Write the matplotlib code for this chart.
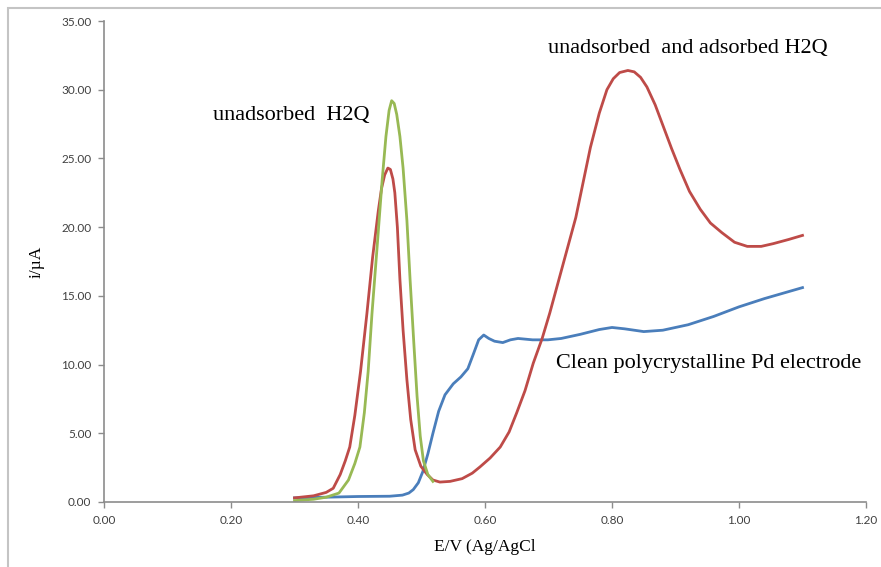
import matplotlib
matplotlib.use("Agg")
import matplotlib.pyplot as plt
from matplotlib.patches import Rectangle

# Clean polycrystalline Pd electrode (blue)
pd_x = [0.30, 0.35, 0.40, 0.45, 0.47, 0.48, 0.487, 0.495, 0.502, 0.51, 0.518, 0.527,
        0.537, 0.55, 0.562, 0.573, 0.582, 0.59, 0.598, 0.606, 0.615, 0.628, 0.64,
        0.652, 0.675, 0.699, 0.72, 0.75, 0.78, 0.80, 0.82, 0.85, 0.88, 0.92, 0.96,
        1.00, 1.04, 1.07, 1.10]
pd_y = [0.30, 0.35, 0.40, 0.42, 0.50, 0.65, 0.9, 1.4, 2.2, 3.5, 5.0, 6.6,
        7.8, 8.6, 9.1, 9.7, 10.8, 11.8, 12.15, 11.9, 11.7, 11.6, 11.8,
        11.9, 11.8, 11.8, 11.9, 12.2, 12.55, 12.7, 12.6, 12.4, 12.5, 12.9, 13.5,
        14.2, 14.8, 15.2, 15.6]

# unadsorbed and adsorbed H2Q (red)
ads_x = [0.30, 0.33, 0.35, 0.361, 0.372, 0.38, 0.387, 0.395, 0.404, 0.414, 0.423,
         0.432, 0.437, 0.442, 0.447, 0.451, 0.455, 0.458, 0.462, 0.466, 0.471, 0.477,
         0.483, 0.49, 0.499, 0.509, 0.518, 0.529, 0.545, 0.564, 0.58, 0.592, 0.608,
         0.624, 0.638, 0.65, 0.663, 0.676, 0.69, 0.702, 0.72, 0.743, 0.766, 0.78,
         0.792, 0.802, 0.812, 0.825, 0.835, 0.845, 0.855, 0.868, 0.881, 0.894, 0.907,
         0.922, 0.939, 0.955, 0.973, 0.993, 1.013, 1.035, 1.054, 1.078, 1.10]
ads_y = [0.30, 0.45, 0.70, 1.0, 2.0, 3.0, 4.0, 6.3, 9.5, 13.7, 17.8,
         21.2, 22.8, 23.8, 24.3, 24.2, 23.5, 22.5, 20.0, 16.2, 12.5, 8.9,
         6.0, 3.8, 2.6, 2.0, 1.6, 1.45, 1.5, 1.7, 2.1, 2.55, 3.2,
         4.0, 5.1, 6.5, 8.1, 10.1, 11.9, 13.75, 16.8, 20.7, 25.8, 28.3,
         30.0, 30.8, 31.25, 31.4, 31.3, 30.9, 30.2, 28.9, 27.3, 25.7, 24.2,
         22.6, 21.3, 20.3, 19.6, 18.9, 18.6, 18.6, 18.8, 19.1, 19.4]

# unadsorbed H2Q (green)
una_x = [0.30, 0.33, 0.35, 0.37, 0.385, 0.395, 0.403, 0.41, 0.416, 0.422, 0.43,
         0.438, 0.444, 0.449, 0.453, 0.457, 0.461, 0.466, 0.471, 0.477, 0.482, 0.488,
         0.493, 0.498, 0.503, 0.51, 0.518]
una_y = [0.10, 0.20, 0.35, 0.65, 1.6, 2.8, 4.0, 6.5, 9.5, 13.7, 18.5,
         23.4, 26.6, 28.5, 29.2, 29.0, 28.2, 26.6, 24.3, 20.5, 16.2, 11.5,
         7.7, 4.8, 3.0, 2.0, 1.5]

x_ticks = [0.0, 0.2, 0.4, 0.6, 0.8, 1.0, 1.2]
y_ticks = [0, 5, 10, 15, 20, 25, 30, 35]

W, H = 881, 567
fig = plt.figure(figsize=(W / 100, H / 100), dpi=100)
ax = fig.add_axes([104 / W, (H - 502) / H, 762 / W, (502 - 21) / H])

# chart area border (cut at right/bottom in the original)
fig.patches.append(Rectangle((8 / W, -0.1), 1.2, 1 - 8 / H + 0.1,
                             transform=fig.transFigure, fill=False,
                             edgecolor="#c4c4c4", lw=1.5))

lw = 2.0
ax.plot(pd_x, pd_y, color="#4a7ebb", lw=lw)
ax.plot(ads_x, ads_y, color="#be4b48", lw=lw)
ax.plot(una_x, una_y, color="#98b954", lw=lw)

ax.set_xlim(0, 1.2)
ax.set_ylim(0, 35)
ax.set_xticks(x_ticks)
ax.set_yticks(y_ticks)
ax.set_xticklabels([f"{t:.2f}" for t in x_ticks])
ax.set_yticklabels([f"{t:.2f}" for t in y_ticks])

for s in ["top", "right"]:
    ax.spines[s].set_visible(False)
for s in ["left", "bottom"]:
    ax.spines[s].set_color("#8c8c8c")
    ax.spines[s].set_linewidth(1.2)
ax.tick_params(direction="out", length=4, width=1, color="#8c8c8c",
               labelsize=8.5, labelcolor="#404040", pad=5)
for lab in ax.get_xticklabels() + ax.get_yticklabels():
    lab.set_family("Lato")

serif = "Liberation Serif"
ax.set_xlabel("E/V (Ag/AgCl", family=serif, fontsize=12.5, labelpad=10)
ax.set_ylabel("i/µA", family=serif, fontsize=12.5, labelpad=12)

ax.text(0.172, 28.1, "unadsorbed  H2Q", family=serif, fontsize=16, va="center")
ax.text(0.699, 33.0, "unadsorbed  and adsorbed H2Q", family=serif, fontsize=16,
        va="center")
ax.text(0.712, 10.1, "Clean polycrystalline Pd electrode", family=serif,
        fontsize=16, va="center")

fig.savefig("out.png", dpi=100)
